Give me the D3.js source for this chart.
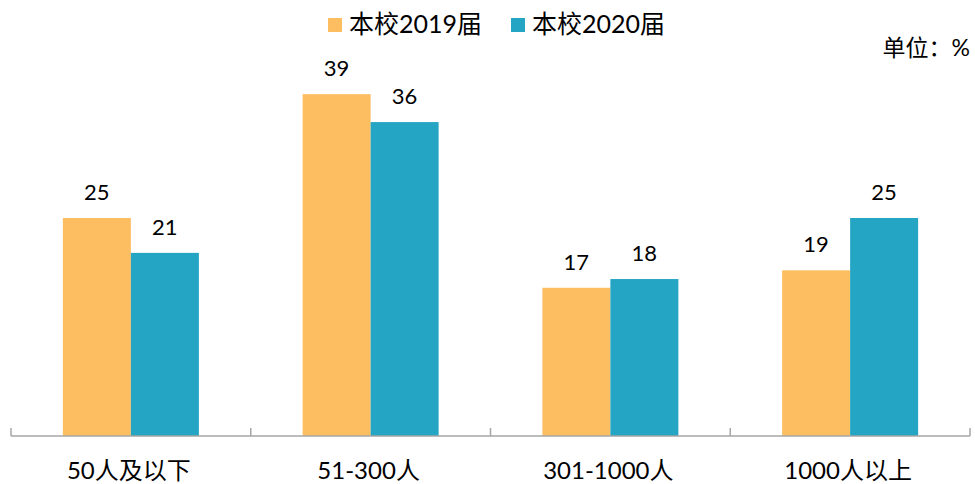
<!DOCTYPE html>
<html><head><meta charset="utf-8">
<script src="https://cdn.jsdelivr.net/npm/d3@7"></script>
<style>body{margin:0;background:#fff}text{font-family:Lato,"Noto Sans CJK SC",sans-serif;fill:#000}</style>
</head><body>
<svg id="c" width="975" height="484"></svg>
<script>
const categories = ["50人及以下","51-300人","301-1000人","1000人以上"];
const seriesNames = ["本校2019届","本校2020届"];
const values2019 = [25, 39.2, 17, 19];
const values2020 = [21, 36, 18, 25];
const colors = ["#FDBE62","#24A5C4"];
const unitLabel = "单位：%";

const svg = d3.select("#c");
const x0 = 11, x1 = 970, base = 436;
const x = d3.scaleBand().domain(categories).range([x0, x1]).paddingInner(0).paddingOuter(0);
const inner = d3.scaleBand().domain([0,1]).range([0, x.bandwidth()]).paddingInner(0).paddingOuter(0.763);
const y = d3.scaleLinear().domain([0, 25]).range([base, 218]);

const series = [values2019, values2020];
series.forEach((vals, si) => {
  svg.append("g").selectAll("rect").data(vals).join("rect")
    .attr("x", (d,i) => x(categories[i]) + inner(si))
    .attr("width", inner.bandwidth())
    .attr("y", d => y(d))
    .attr("height", d => base - y(d))
    .attr("fill", colors[si]);
  svg.append("g").selectAll("text").data(vals).join("text")
    .attr("x", (d,i) => x(categories[i]) + inner(si) + inner.bandwidth()/2)
    .attr("y", d => y(d) - 18)
    .attr("text-anchor","middle")
    .attr("font-size", 22)
    .text(d => Math.round(d));
});

// axis
const axis = svg.append("g");
axis.append("line").attr("x1", x0).attr("x2", x1).attr("y1", base).attr("y2", base)
  .attr("stroke","#A6A6A6").attr("stroke-width",1.5);
const tickPos = categories.map(c => x(c)).concat([x1]);
axis.selectAll("line.t").data(tickPos).join("line").attr("class","t")
  .attr("x1", d=>d).attr("x2", d=>d).attr("y1", base-8).attr("y2", base)
  .attr("stroke","#A6A6A6").attr("stroke-width",1.5);
axis.selectAll("text").data(categories).join("text")
  .attr("x", d => x(d) + x.bandwidth()/2 - 2)
  .attr("y", 479)
  .attr("text-anchor","middle")
  .attr("font-size", 24)
  .text(d => d);

// legend
const legX = [328, 511];
seriesNames.forEach((n,i) => {
  svg.append("rect").attr("x", legX[i]).attr("y", 18).attr("width",14).attr("height",14).attr("fill",colors[i]);
  svg.append("text").attr("x", legX[i]+21).attr("y", 33).attr("font-size",25).text(n);
});
svg.append("text").attr("x", 970).attr("y", 56).attr("text-anchor","end").attr("font-size",23).text(unitLabel);
</script>
</body></html>
